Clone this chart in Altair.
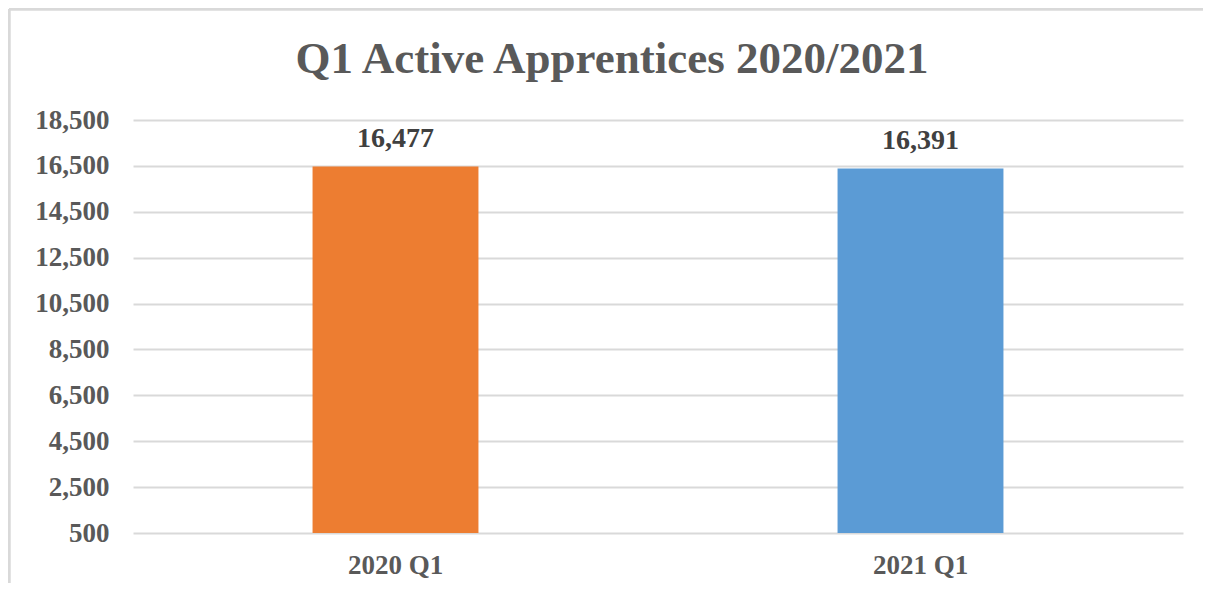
import altair as alt
import pandas as pd

categories = ["2020 Q1", "2021 Q1"]
values = [16477, 16391]
colors = ["#ED7D31", "#5B9BD5"]
y_ticks = [500, 2500, 4500, 6500, 8500, 10500, 12500, 14500, 16500, 18500]

df = pd.DataFrame({"quarter": categories, "apprentices": values})

FONT = "Liberation Serif"
GRAY = "#595959"

x_enc = alt.X(
    "quarter:N",
    sort=categories,
    title=None,
    scale=alt.Scale(paddingInner=0.684, paddingOuter=0.342),
    axis=alt.Axis(
        labelAngle=0,
        labelFont=FONT,
        labelFontSize=27,
        labelFontWeight="bold",
        labelColor=GRAY,
        labelPadding=19,
        ticks=False,
        domain=False,
        grid=False,
    ),
)

y_scale = alt.Scale(domain=[500, 18500], zero=False, nice=False)

bars = alt.Chart(df).mark_bar().encode(
    x=x_enc,
    y=alt.Y(
        "apprentices:Q",
        scale=y_scale,
        title=None,
        axis=alt.Axis(
            values=y_ticks,
            format=",.0f",
            labelFont=FONT,
            labelFontSize=27,
            labelFontWeight="bold",
            labelColor=GRAY,
            labelPadding=24,
            ticks=False,
            domain=False,
            grid=True,
            gridColor="#D9D9D9",
            gridWidth=2,
        ),
    ),
    y2=alt.datum(500),
    color=alt.Color("quarter:N", scale=alt.Scale(domain=categories, range=colors), legend=None),
)

labels = alt.Chart(df).mark_text(
    font=FONT, fontSize=28, fontWeight="bold", color="#404040", baseline="middle", dy=-27
).encode(
    x=alt.X("quarter:N", sort=categories),
    y=alt.Y("apprentices:Q", scale=y_scale),
    text=alt.Text("apprentices:Q", format=",.0f"),
)

frame_top = alt.Chart(df).mark_rule(color="#D9D9D9", strokeWidth=3).encode(
    x=alt.value(-124), x2=alt.value(1090), y=alt.value(-111)
)
frame_left = alt.Chart(df).mark_rule(color="#D9D9D9", strokeWidth=3).encode(
    x=alt.value(-124), y=alt.value(-111), y2=alt.value(480)
)

chart = alt.layer(frame_top, frame_left, bars, labels).properties(
    width=1050,
    height=413,
    background="white",
    autosize=alt.AutoSizeParams(type="none"),
    padding={"left": 125, "top": 112, "right": 20, "bottom": 50},
    title=alt.TitleParams(
        "Q1 Active Apprentices 2020/2021",
        font=FONT,
        fontSize=45,
        fontWeight="bold",
        color=GRAY,
        anchor="middle",
        dx=-46,
        offset=-74,
    ),
).configure_view(strokeWidth=0, stroke="transparent")

chart.save("out.html", embed_options={"renderer": "svg", "actions": False})
